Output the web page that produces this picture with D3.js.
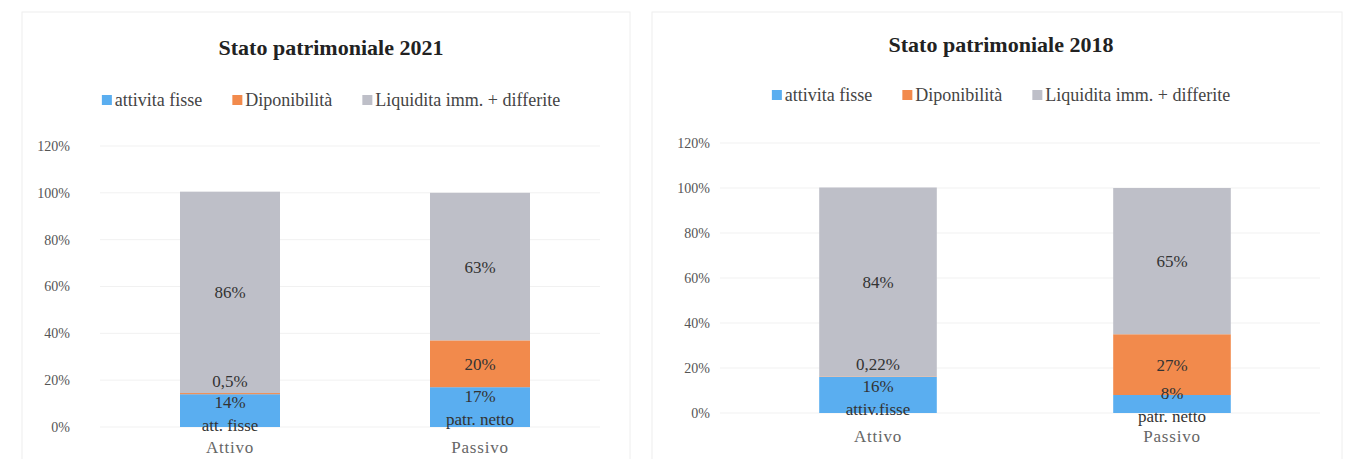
<!DOCTYPE html>
<html>
<head>
<meta charset="utf-8">
<script src="https://cdn.jsdelivr.net/npm/d3@7"></script>
<style>
  html, body { margin: 0; padding: 0; background: #ffffff; }
  svg { display: block; }
  text { font-family: "Liberation Serif", "DejaVu Serif", serif; }
</style>
</head>
<body>
<svg id="chart" width="1348" height="459"></svg>
<script>
// ---- DATA ----
const categories = ["Attivo", "Passivo"];
const seriesNames = ["attivita fisse", "Diponibilità", "Liquidita imm. + differite"];
const yTicks = [0, 20, 40, 60, 80, 100, 120];

// Stato patrimoniale 2021
const title2021 = "Stato patrimoniale 2021";
const fisse2021 = [14, 17];
const disp2021 = [0.5, 20];
const liq2021 = [86, 63];
const subLabels2021 = ["att. fisse", "patr. netto"];

// Stato patrimoniale 2018
const title2018 = "Stato patrimoniale 2018";
const fisse2018 = [16, 8];
const disp2018 = [0.22, 27];
const liq2018 = [84, 65];
const subLabels2018 = ["attiv.fisse", "patr. netto"];

const colors = ["#5aaef0", "#f28a4c", "#bebfc8"];

// ---- DRAW ----
const svg = d3.select("#chart");
const fmtPct = v => (Number.isInteger(v) ? String(v) : String(v).replace(".", ",")) + "%";

function drawChart(cfg) {
  const g = svg.append("g");
  // panel border
  g.append("rect")
    .attr("x", cfg.panel[0]).attr("y", cfg.panel[1])
    .attr("width", cfg.panel[2]).attr("height", cfg.panel[3])
    .attr("fill", "none").attr("stroke", "#eeeeee").attr("stroke-width", 1);

  const x = d3.scaleBand().domain(categories).range(cfg.xRange).paddingInner(0.6).paddingOuter(0.3);
  const y = d3.scaleLinear().domain([0, 120]).range(cfg.yRange);

  // gridlines
  g.append("g").selectAll("line").data(yTicks).join("line")
    .attr("x1", cfg.gridX[0]).attr("x2", cfg.gridX[1])
    .attr("y1", d => y(d)).attr("y2", d => y(d))
    .attr("stroke", "#f1f1f1").attr("stroke-width", 1);

  // y axis labels
  const yAxis = d3.axisLeft(y).tickValues(yTicks).tickFormat(d => d + "%").tickSize(0).tickPadding(0);
  const ya = g.append("g").attr("transform", `translate(${cfg.tickX},0)`).call(yAxis);
  ya.select(".domain").remove();
  ya.selectAll("text").attr("font-family", "Liberation Serif, serif")
    .attr("font-size", 14).attr("fill", "#555");

  // x axis labels
  const xAxis = d3.axisBottom(x).tickSize(0).tickPadding(0);
  const xa = g.append("g").attr("transform", `translate(0,${cfg.xLabelY})`).call(xAxis);
  xa.select(".domain").remove();
  xa.selectAll("text").attr("font-family", "Liberation Serif, serif")
    .attr("font-size", 17).attr("letter-spacing", "0.8px").attr("fill", "#666").attr("dy", "0");

  // stacked bars
  const rows = categories.map((c, i) => ({ cat: c, s0: cfg.fisse[i], s1: cfg.disp[i], s2: cfg.liq[i] }));
  const stack = d3.stack().keys(["s0", "s1", "s2"])(rows);
  stack.forEach((layer, li) => {
    g.append("g").selectAll("rect").data(layer).join("rect")
      .attr("x", d => x(d.data.cat))
      .attr("width", x.bandwidth())
      .attr("y", d => y(d[1]))
      .attr("height", d => y(d[0]) - y(d[1]))
      .attr("fill", colors[li]);
  });

  // data labels
  const lg = g.append("g").attr("font-size", 17).attr("fill", "#333").attr("text-anchor", "middle");
  stack.forEach((layer, li) => {
    layer.forEach((d, i) => {
      const cx = x(d.data.cat) + x.bandwidth() / 2;
      const cy = y((d[0] + d[1]) / 2);
      const val = [cfg.fisse, cfg.disp, cfg.liq][li][i];
      const tiny = cfg.disp[i] < 2;
      if (li === 0) {
        const off = tiny ? 2 : 0;
        lg.append("text").attr("x", cx).attr("y", cy - 11 + off).attr("dy", "0.35em").text(fmtPct(val));
        lg.append("text").attr("x", cx).attr("y", cy + 12 + off).attr("dy", "0.35em").text(cfg.sub[i]);
      } else if (li === 1 && tiny) {
        lg.append("text").attr("x", cx).attr("y", y(d[1]) - 12).attr("dy", "0.35em").text(fmtPct(val));
      } else {
        lg.append("text").attr("x", cx).attr("y", cy).attr("dy", "0.35em").text(fmtPct(val));
      }
    });
  });

  // title
  g.append("text").attr("x", cfg.cx).attr("y", cfg.titleY).attr("text-anchor", "middle")
    .attr("font-size", 22).attr("font-weight", "bold").attr("fill", "#222").text(cfg.title);

  // legend
  const leg = g.append("g");
  const items = seriesNames.map((n, i) => {
    const it = leg.append("g");
    it.append("rect").attr("x", 0).attr("y", -5).attr("width", 10).attr("height", 10).attr("fill", colors[i]);
    const t = it.append("text").attr("x", 13).attr("y", 0).attr("dy", "0.35em")
      .attr("font-size", 18).attr("fill", "#444").text(n);
    return { it, w: 13 + t.node().getComputedTextLength() };
  });
  const gap = 30;
  const total = d3.sum(items, d => d.w) + gap * (items.length - 1);
  let px = cfg.cx - total / 2;
  items.forEach(d => { d.it.attr("transform", `translate(${px},${cfg.legendY})`); px += d.w + gap; });
}

drawChart({
  title: title2021, fisse: fisse2021, disp: disp2021, liq: liq2021, sub: subLabels2021,
  panel: [22, 12, 608, 460], xRange: [105, 605], yRange: [427, 146],
  gridX: [100, 600], tickX: 70, xLabelY: 453, cx: 331, titleY: 55, legendY: 100
});
drawChart({
  title: title2018, fisse: fisse2018, disp: disp2018, liq: liq2018, sub: subLabels2018,
  panel: [652, 12, 690, 460], xRange: [731, 1319], yRange: [413, 143],
  gridX: [720, 1320], tickX: 710, xLabelY: 442, cx: 1001, titleY: 52, legendY: 95
});
</script>
</body>
</html>
